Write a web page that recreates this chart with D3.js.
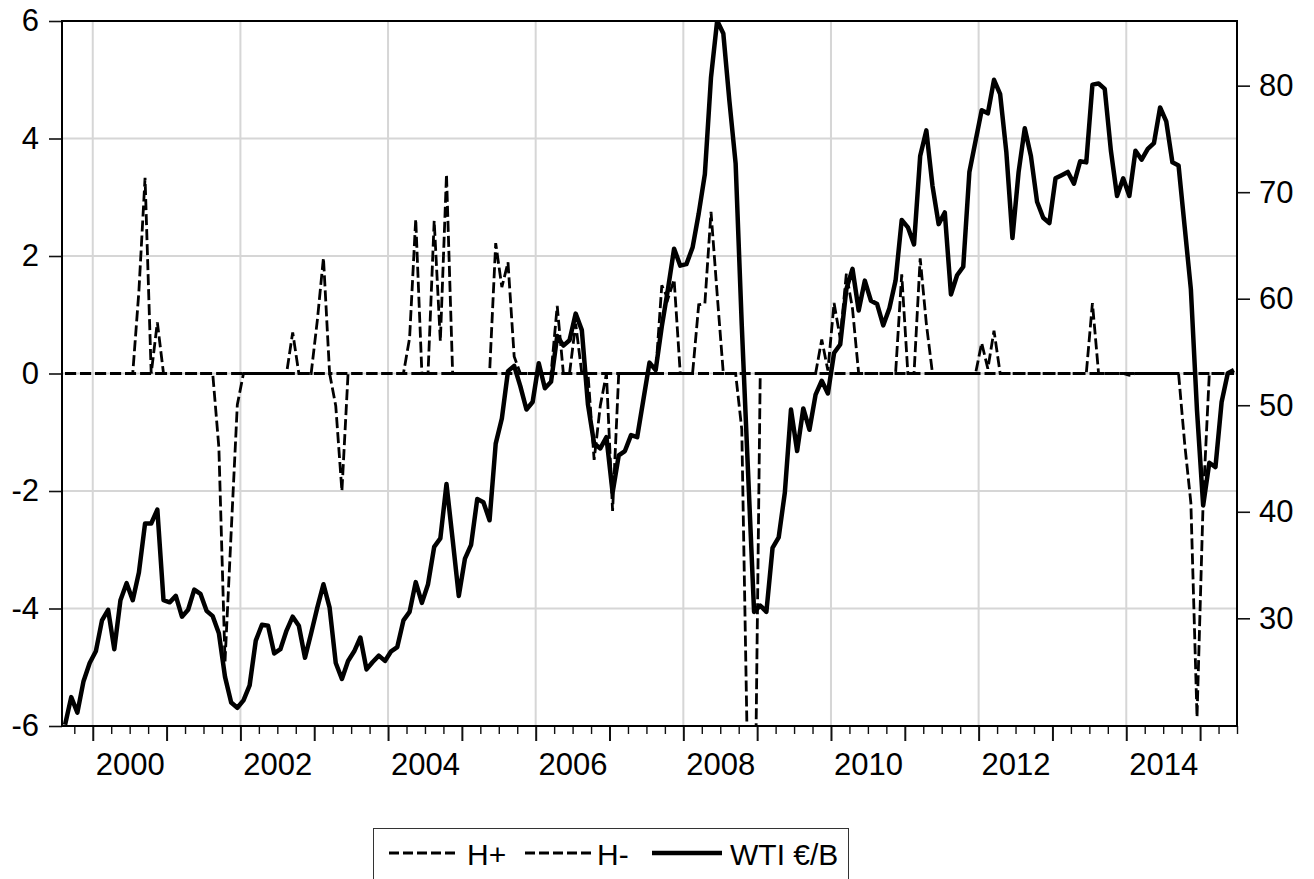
<!DOCTYPE html>
<meta charset="utf-8">
<style>
  body { margin: 0; background: #fff; }
  svg { font-family: "Liberation Sans", Arial, sans-serif; }
  .grid line { stroke: #d6d6d6; stroke-width: 2; }
  .axis text { font-size: 31px; fill: #000; }
  .axis line { stroke: #111; stroke-width: 1.6; }
  .axis .domain { display: none; }
  .legend text { font-size: 30px; fill: #000; }
</style>
<body>
<script src="https://cdn.jsdelivr.net/npm/d3@7"></script>
<script>
// monthly observations, 1999M08 .. 2015M06, one row per calendar year
var hPlus = [
  0, 0, 0, 0, 0,
  0, 0, 0, 0, 0, 0, 0, 1.4, 3.33, 0, 0.87, 0,
  0, 0, 0, 0, 0, 0, 0, 0, 0, 0, 0, 0,
  0, 0, 0, 0, 0, 0, 0, 0, 0.7, 0, 0, 0,
  0.9, 1.97, 0, 0, 0, 0, 0, 0, 0, 0, 0, 0,
  0, 0, 0, 0.6, 2.63, 0, 0, 2.6, 0.55, 3.39, 0, 0,
  0, 0, 0, 0, 0, 2.22, 1.47, 1.89, 0.29, 0, 0, 0,
  0, 0, 0, 1.15, 0, 0, 0.85, 0, 0, 0, 0, 0,
  0, 0, 0, 0, 0, 0, 0, 0, 1.5, 1.27, 1.6, 0,
  0, 0, 1.17, 1.19, 2.75, 1.35, 0, 0, 0, 0, 0, 0,
  0, 0, 0, 0, 0, 0, 0, 0, 0, 0, 0.58, 0.05,
  1.2, 0.6, 1.7, 1.1, 0, 0, 0, 0, 0, 0, 0, 1.69,
  0, 0, 1.96, 0.85, 0, 0, 0, 0, 0, 0, 0, 0,
  0.52, 0.08, 0.73, 0, 0, 0, 0, 0, 0, 0, 0, 0,
  0, 0, 0, 0, 0, 0, 1.2, 0, 0, 0, 0, 0,
  0, 0, 0, 0, 0, 0, 0, 0, 0, 0, 0, 0,
  0, 0, 0, 0, 0, 0
];

var hMinus = [
  0, 0, 0, 0, 0,
  0, 0, 0, 0, 0, 0, 0, 0, 0, 0, 0, 0,
  0, 0, 0, 0, 0, 0, 0, 0, -1.26, -4.9, -2.7, -0.53,
  0, 0, 0, 0, 0, 0, 0, 0, 0, 0, 0, 0,
  0, 0, 0, -0.55, -2.0, 0, 0, 0, 0, 0, 0, 0,
  0, 0, 0, 0, 0, 0, 0, 0, 0, 0, 0, 0,
  0, 0, 0, 0, 0, 0, 0, 0, 0, 0, 0, 0,
  0, 0, 0, 0, 0, 0, 0, 0, 0, -1.47, -0.55, 0,
  -2.34, 0, 0, 0, 0, 0, 0, 0, 0, 0, 0, 0,
  0, 0, 0, 0, 0, 0, 0, 0, 0, -0.95, -7.0, -9.0,
  0, 0, 0, 0, 0, 0, 0, 0, 0, 0, 0, 0,
  0, 0, 0, 0, 0, 0, 0, 0, 0, 0, 0, 0,
  0, 0, 0, 0, 0, 0, 0, 0, 0, 0, 0, 0,
  0, 0, 0, 0, 0, 0, 0, 0, 0, 0, 0, 0,
  0, 0, 0, 0, 0, 0, 0, 0, 0, 0, 0, 0,
  -0.03, 0, 0, 0, 0, 0, 0, 0, 0, -1.2, -2.2, -5.85,
  -2.17, 0, 0, 0, 0, 0
];

// WTI in euro per barrel (right axis)
var wti = [
  20.0, 22.6, 21.15, 24.1, 25.8,
  26.9, 29.8, 30.8, 27.1, 31.7, 33.3, 31.7, 34.3, 38.9, 38.9, 40.2, 31.7,
  31.5, 32.1, 30.15, 30.8, 32.7, 32.3, 30.7, 30.2, 28.6, 24.5, 22.1, 21.6,
  22.3, 23.7, 27.9, 29.4, 29.3, 26.7, 27.1, 28.85, 30.15, 29.3, 26.3, 28.6,
  31.0, 33.2, 31.0, 25.8, 24.3, 26.0, 26.9, 28.2, 25.2, 25.9, 26.5, 26.0,
  26.9, 27.3, 29.8, 30.6, 33.4, 31.45, 33.2, 36.7, 37.5, 42.6, 37.4, 32.1,
  35.6, 36.9, 41.2, 40.9, 39.2, 46.4, 48.75, 53.2, 53.7, 51.8, 49.6, 50.3,
  53.95, 51.6, 52.2, 56.5, 55.6, 56.1, 58.6, 57.05, 50.05, 46.4, 45.95, 47.0,
  41.8, 45.3, 45.7, 47.2, 47.0, 50.5, 54.0, 53.3, 57.4, 60.9, 64.7, 63.1,
  63.25, 64.8, 68.0, 71.7, 80.8, 86.1, 84.9, 78.5, 72.7, 57.5, 44.0, 30.6,
  31.2, 30.6, 36.6, 37.6, 41.8, 49.6, 45.7, 49.7, 47.7, 51.0, 52.3, 51.1,
  54.9, 55.7, 60.9, 62.8, 58.9, 61.7, 59.8, 59.5, 57.5, 59.1, 61.7, 67.4,
  66.7, 65.1, 73.4, 75.8, 70.6, 67.0, 68.1, 60.4, 62.2, 63.0, 71.9, 74.8,
  77.7, 77.4, 80.55, 79.2, 73.8, 65.7, 71.9, 76.0, 73.4, 69.1, 67.6, 67.1,
  71.3, 71.6, 71.9, 70.8, 72.9, 72.8, 80.1, 80.2, 79.7, 73.9, 69.65, 71.3,
  69.65, 73.9, 73.05, 74.06, 74.6, 77.95, 76.65, 72.8, 72.5, 66.7, 60.9, 49.5,
  40.6, 44.6, 44.2, 50.3, 53.0, 53.3
];

var leftTicks = [-6, -4, -2, 0, 2, 4, 6];
var rightTicks = [30, 40, 50, 60, 70, 80];
var yearLabels = ["2000", "2002", "2004", "2006", "2008", "2010", "2012", "2014"];
var seriesNames = ["H+", "H-", "WTI €/B"];

var width = 1314, height = 879;
var plot = {left: 62, right: 1237, top: 21, bottom: 726};

var svg = d3.select("body").append("svg")
    .attr("width", width)
    .attr("height", height);

// x in months counted from the start of 1999M08; obs i sits mid-month
var x = d3.scaleLinear().domain([0, wti.length]).range([plot.left, plot.right]);
var yL = d3.scaleLinear().domain([-6, 6]).range([plot.bottom, plot.top]);
var yR = d3.scaleLinear().domain([19.89, 86.07]).range([plot.bottom, plot.top]);

var janIdx = d3.range(5, wti.length + 1, 12);            // Jan 2000 .. Jan 2015
var quarterIdx = d3.range(2, wti.length + 1, 3).filter(function(d) { return (d - 5) % 12 !== 0; });
var gridX = janIdx.filter(function(d, i) { return i % 2 === 0 && i < 15; });
var labelIdx = yearLabels.map(function(d) { return 5 + 12 * (+d - 2000) + 6; });

// grid
var grid = svg.append("g").attr("class", "grid");
grid.selectAll(".gy").data(leftTicks.slice(1, -1)).enter().append("line")
    .attr("x1", plot.left).attr("x2", plot.right)
    .attr("y1", yL).attr("y2", yL);
grid.selectAll(".gx").data(gridX).enter().append("line")
    .attr("x1", x).attr("x2", x)
    .attr("y1", plot.top).attr("y2", plot.bottom);

// axes
svg.append("g").attr("class", "axis")
    .attr("transform", "translate(" + plot.left + ",0)")
    .call(d3.axisLeft(yL).tickValues(leftTicks).tickSize(13).tickPadding(10)
      .tickFormat(function(d) { return String(d); }));

svg.append("g").attr("class", "axis")
    .attr("transform", "translate(" + plot.right + ",0)")
    .call(d3.axisRight(yR).tickValues(rightTicks).tickSize(13).tickPadding(9));

svg.append("g").attr("class", "axis")
    .attr("transform", "translate(0," + plot.bottom + ")")
    .call(d3.axisBottom(x).tickValues(janIdx).tickSize(15).tickFormat(""))
    .selectAll("line").style("stroke-width", 2);

svg.append("g").attr("class", "axis")
    .attr("transform", "translate(0," + plot.bottom + ")")
    .call(d3.axisBottom(x).tickValues(quarterIdx).tickSize(8).tickFormat(""))
    .selectAll("line").style("stroke-width", 1.4);

svg.append("g").attr("class", "axis")
    .attr("transform", "translate(0," + plot.bottom + ")")
    .call(d3.axisBottom(x).tickValues(labelIdx).tickSize(0).tickPadding(27)
      .tickFormat(function(d, i) { return yearLabels[i]; }));

// lines
svg.append("clipPath").attr("id", "clip")
  .append("rect")
    .attr("x", plot.left).attr("y", plot.top)
    .attr("width", plot.right - plot.left).attr("height", plot.bottom - plot.top);

var lineL = d3.line()
    .x(function(d, i) { return x(i + 0.5); })
    .y(function(d) { return yL(d); });
var lineR = d3.line()
    .x(function(d, i) { return x(i + 0.5); })
    .y(function(d) { return yR(d); });

var lines = svg.append("g").attr("clip-path", "url(#clip)");

lines.append("path").datum(hPlus)
    .attr("d", lineL)
    .attr("fill", "none").attr("stroke", "#000")
    .attr("stroke-width", 2.8).attr("stroke-dasharray", "11,4");

lines.append("path").datum(hMinus)
    .attr("d", lineL)
    .attr("fill", "none").attr("stroke", "#000")
    .attr("stroke-width", 2.8).attr("stroke-dasharray", "11,4");

lines.append("path").datum(wti)
    .attr("d", lineR)
    .attr("fill", "none").attr("stroke", "#000")
    .attr("stroke-width", 4.5).attr("stroke-linejoin", "round");

// frame
svg.append("rect")
    .attr("x", plot.left).attr("y", plot.top)
    .attr("width", plot.right - plot.left).attr("height", plot.bottom - plot.top)
    .attr("fill", "none").attr("stroke", "#000").attr("stroke-width", 2);

// legend
var legend = svg.append("g").attr("class", "legend");
legend.append("rect")
    .attr("x", 373.5).attr("y", 828.5)
    .attr("width", 475).attr("height", 80)
    .attr("fill", "none").attr("stroke", "#333").attr("stroke-width", 1);

var legX = [389, 525, 652];
var legTextX = [467, 597, 730];
seriesNames.forEach(function(name, i) {
  legend.append("line")
      .attr("x1", legX[i]).attr("x2", legX[i] + 70)
      .attr("y1", 853).attr("y2", 853)
      .attr("stroke", "#000")
      .attr("stroke-width", i === 2 ? 4.5 : 2.8)
      .attr("stroke-dasharray", i === 2 ? null : "10,4");
  legend.append("text")
      .attr("x", legTextX[i]).attr("y", 865)
      .text(name);
});
</script>
</body>
